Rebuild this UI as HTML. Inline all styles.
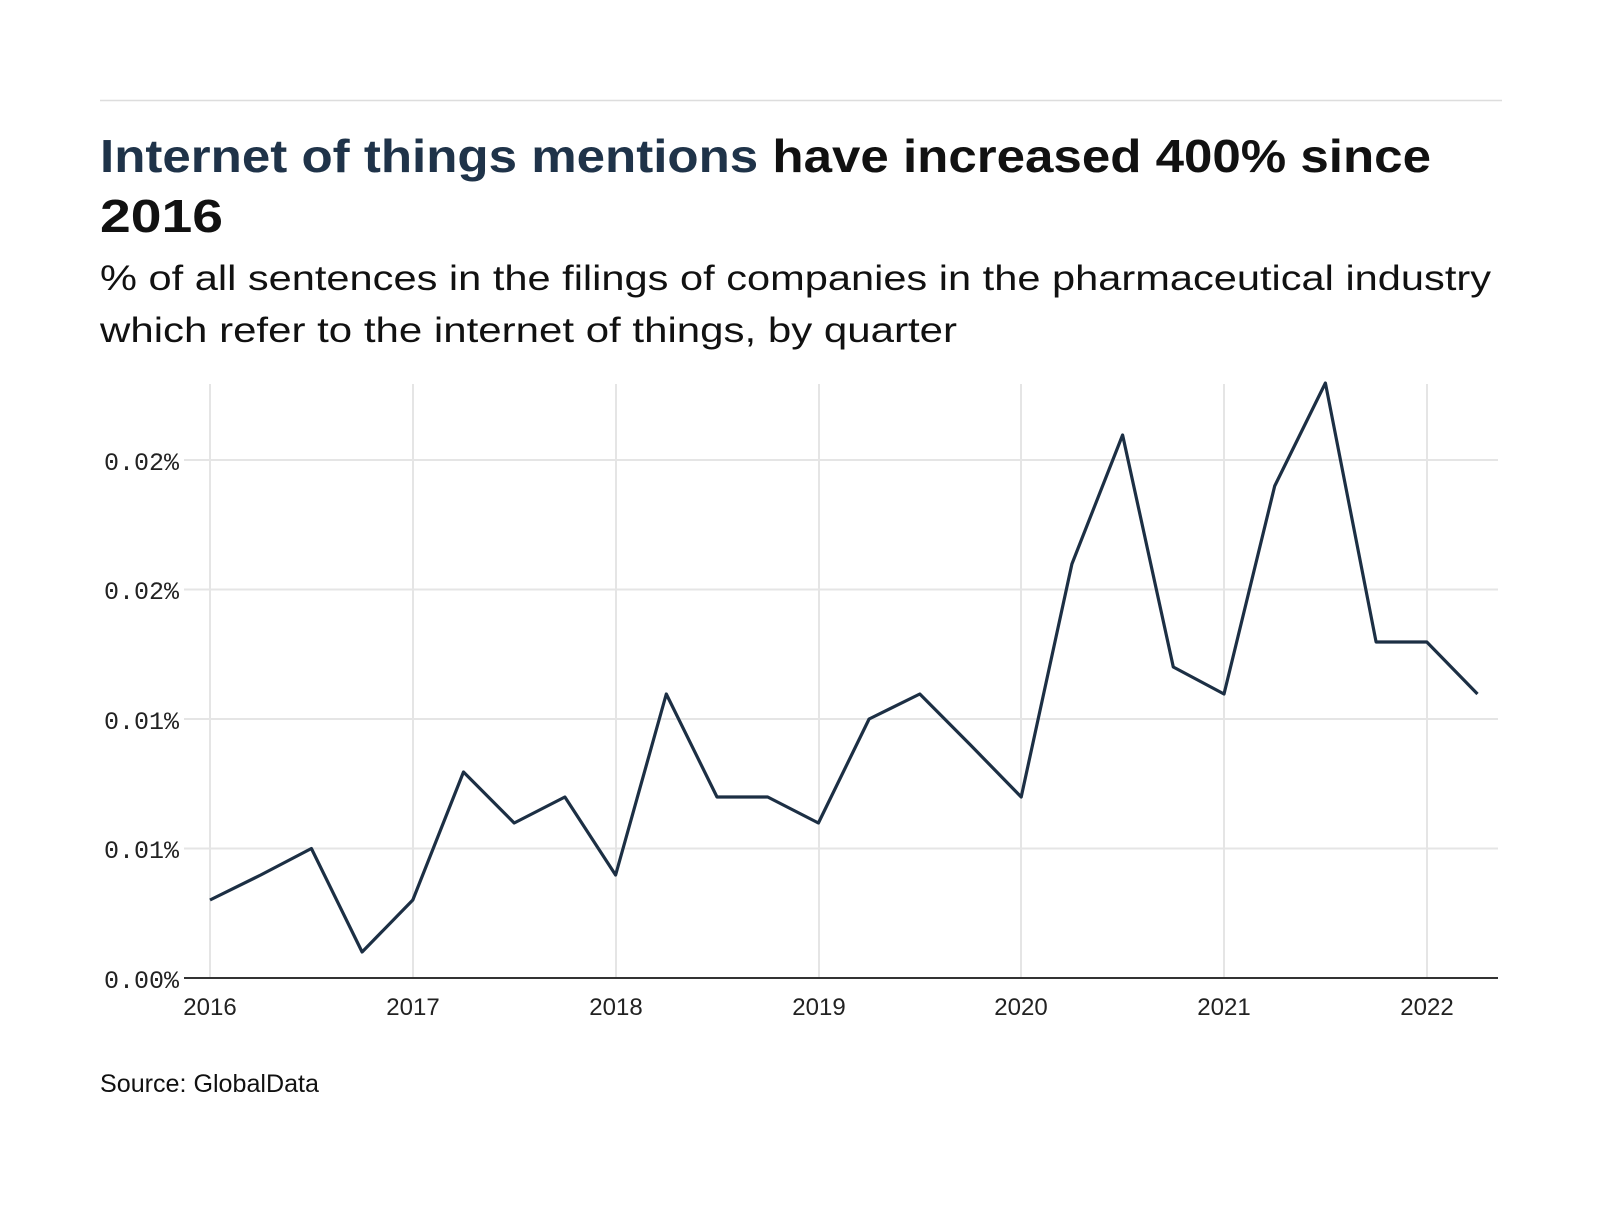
<!DOCTYPE html>
<html><head><meta charset="utf-8"><style>
body{margin:0;background:#fff;width:1600px;height:1200px;overflow:hidden;font-family:"Liberation Sans",sans-serif}
</style></head><body>
<svg width="1600" height="1200" xmlns="http://www.w3.org/2000/svg" font-family="Liberation Sans, sans-serif">
<line x1="100" y1="100.5" x2="1502" y2="100.5" stroke="#ddd" stroke-width="1.5"/>
<text x="100" y="172" font-size="46" font-weight="bold" fill="#1f3349" textLength="1331" lengthAdjust="spacingAndGlyphs">Internet of things mentions <tspan fill="#111">have increased 400% since</tspan></text>
<text x="100" y="232" font-size="46" font-weight="bold" fill="#111" textLength="123" lengthAdjust="spacingAndGlyphs">2016</text>
<text x="100" y="290" font-size="35" fill="#111" textLength="1391" lengthAdjust="spacingAndGlyphs">% of all sentences in the filings of companies in the pharmaceutical industry</text>
<text x="100" y="342" font-size="35" fill="#111" textLength="857" lengthAdjust="spacingAndGlyphs">which refer to the internet of things, by quarter</text>
<g stroke="#e5e5e5" stroke-width="2">
<line x1="184" y1="460" x2="1498" y2="460"/>
<line x1="184" y1="589.5" x2="1498" y2="589.5"/>
<line x1="184" y1="719" x2="1498" y2="719"/>
<line x1="184" y1="848.5" x2="1498" y2="848.5"/>
<line x1="210" y1="384" x2="210" y2="978"/>
<line x1="413" y1="384" x2="413" y2="978"/>
<line x1="616" y1="384" x2="616" y2="978"/>
<line x1="819" y1="384" x2="819" y2="978"/>
<line x1="1021" y1="384" x2="1021" y2="978"/>
<line x1="1224" y1="384" x2="1224" y2="978"/>
<line x1="1427" y1="384" x2="1427" y2="978"/>
</g>
<line x1="184" y1="978" x2="1498" y2="978" stroke="#333" stroke-width="2"/>
<g font-family="Liberation Mono, monospace" font-size="25" fill="#222" text-anchor="end">
<text x="179" y="470">0.02%</text>
<text x="179" y="599">0.02%</text>
<text x="179" y="729">0.01%</text>
<text x="179" y="858">0.01%</text>
<text x="179" y="988">0.00%</text>
</g>
<g font-size="24" fill="#222" text-anchor="middle">
<text x="210" y="1015">2016</text>
<text x="413" y="1015">2017</text>
<text x="616" y="1015">2018</text>
<text x="819" y="1015">2019</text>
<text x="1021" y="1015">2020</text>
<text x="1224" y="1015">2021</text>
<text x="1427" y="1015">2022</text>
</g>
<polyline fill="none" stroke="#1c2f44" stroke-width="3.2" stroke-linejoin="round" points="
210,900 260.7,875 311.4,848.5 362.1,952 412.8,900 463.5,772 514.2,823 564.9,797 615.6,875 666.3,694 717,797 767.7,797 818.4,823 869.1,719 919.8,694 970.5,745 1021.2,797 1071.9,564 1122.6,435 1173.3,667 1224,694 1274.7,486 1325.4,383 1376.1,642 1426.8,642 1477.5,694"/>
<text x="100" y="1092" font-size="25" fill="#111" textLength="219" lengthAdjust="spacingAndGlyphs">Source: GlobalData</text>
</svg>
</body></html>
